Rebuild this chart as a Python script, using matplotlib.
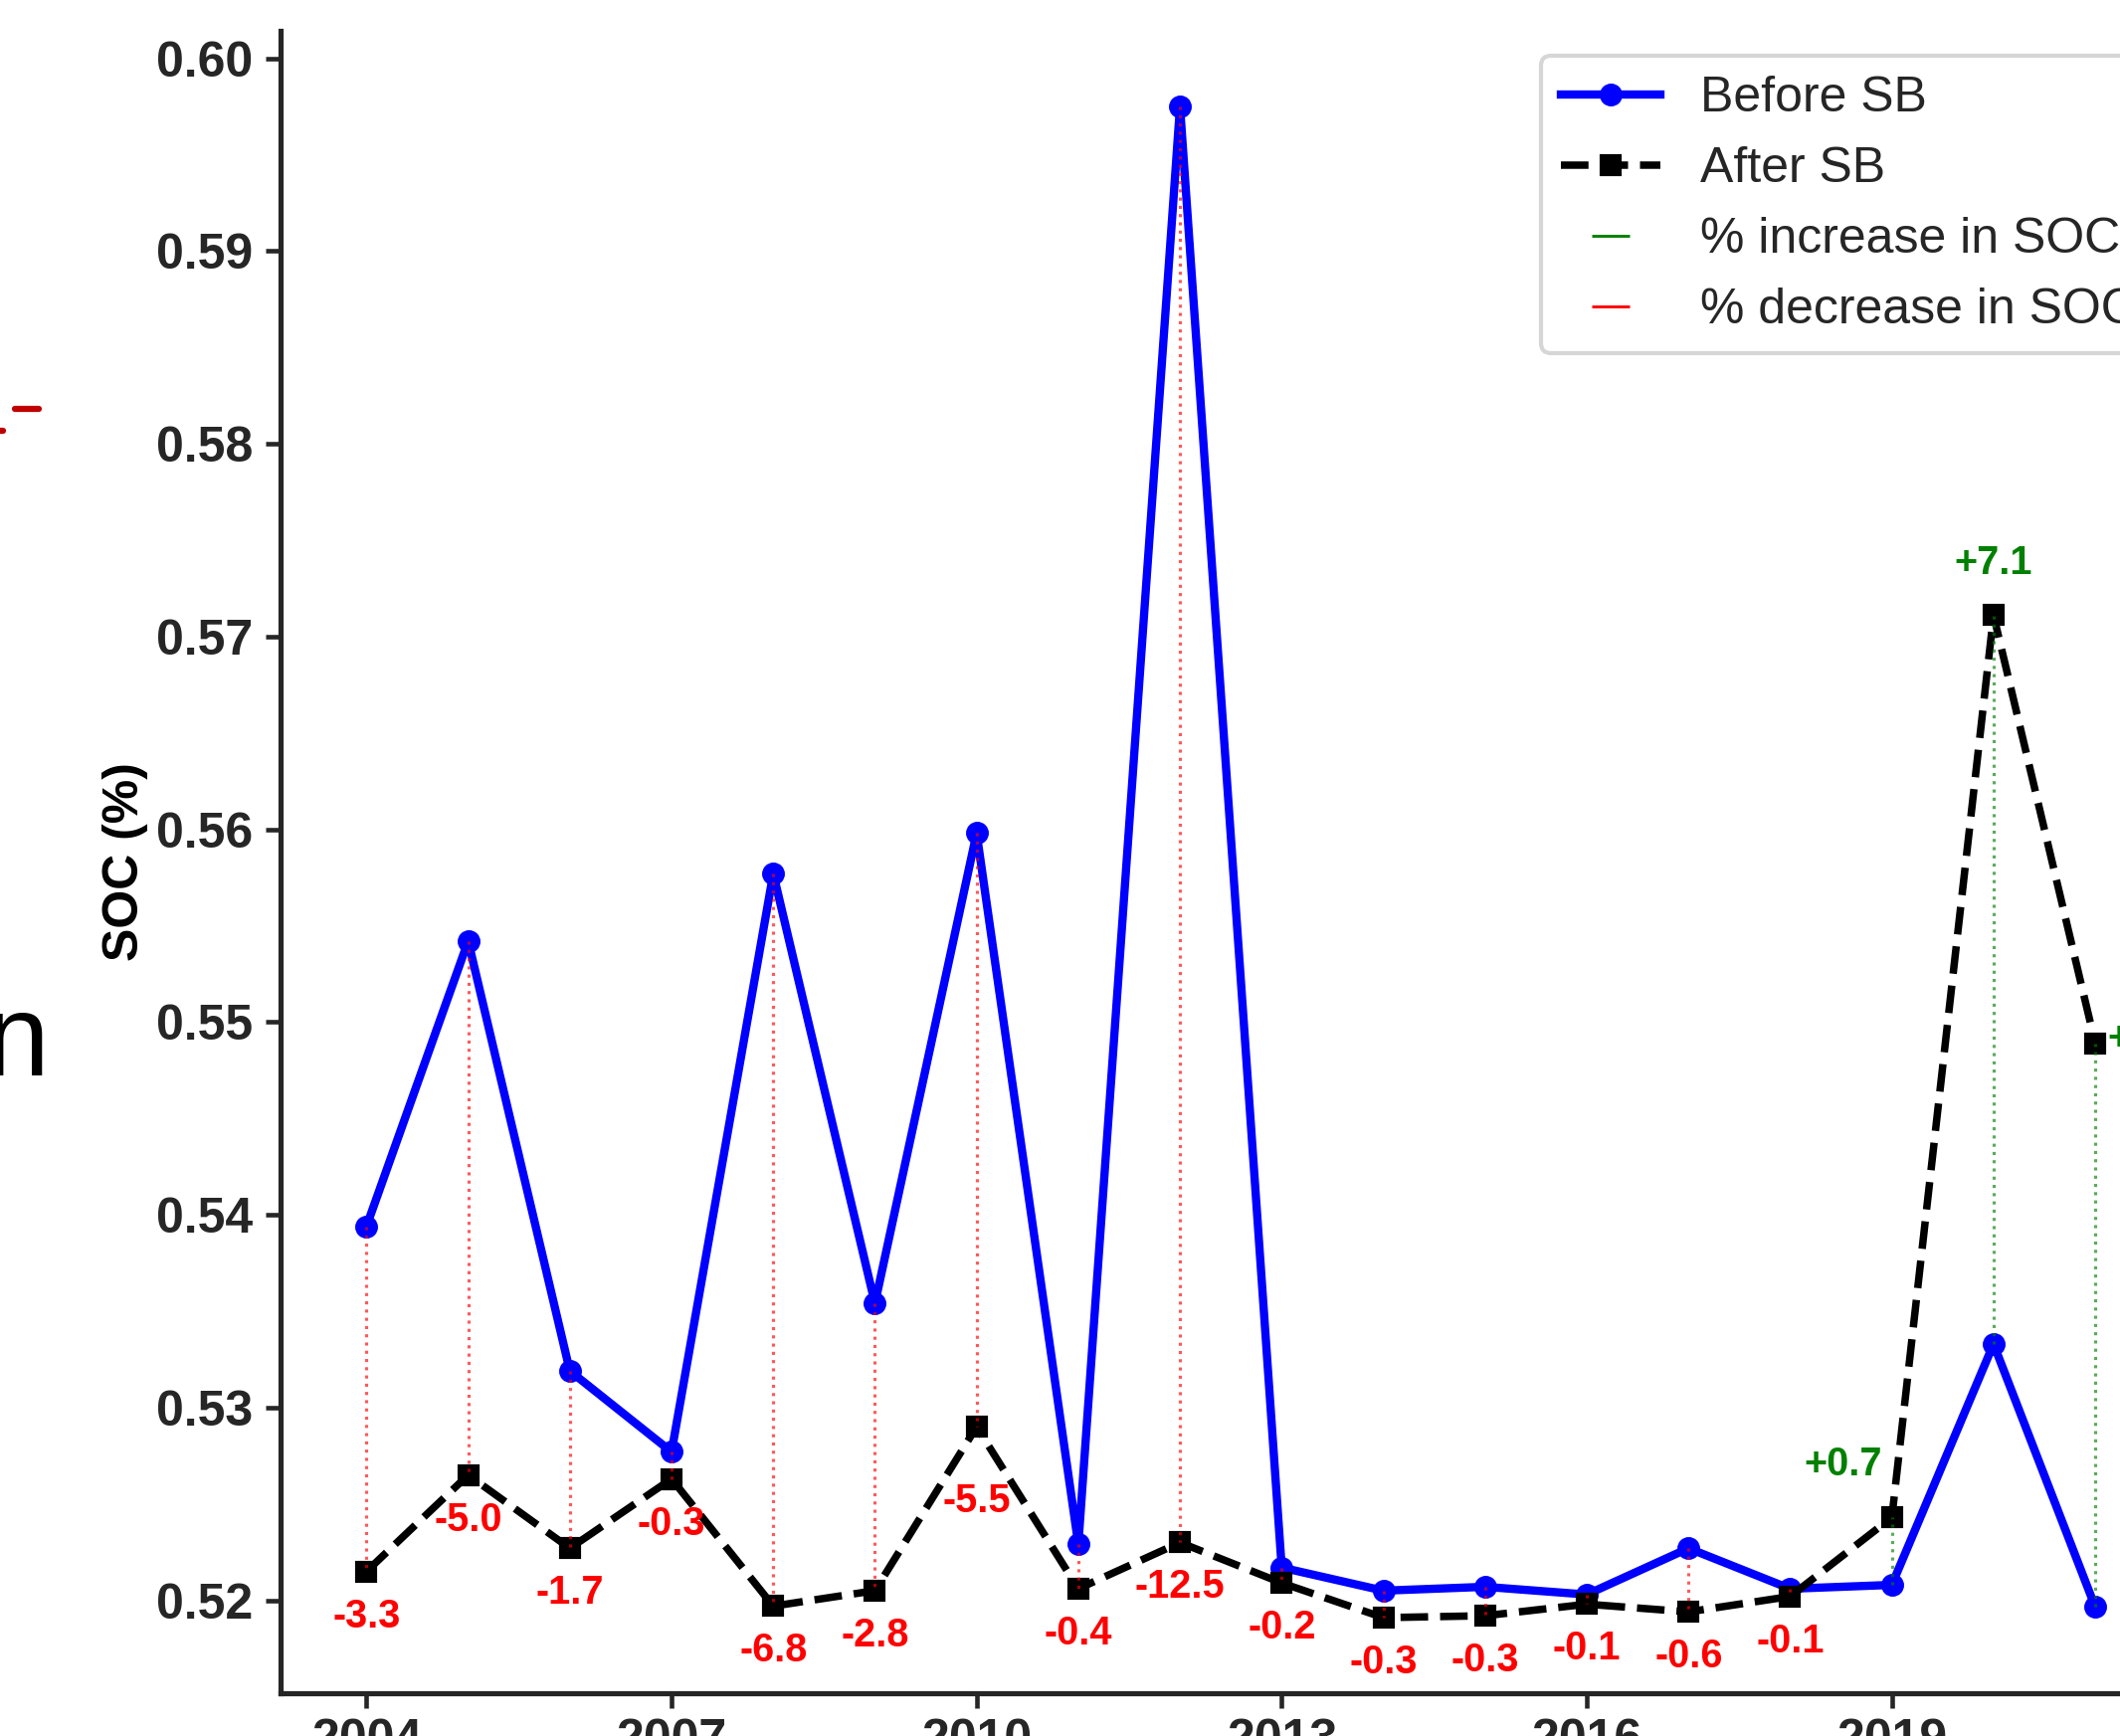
import numpy as np
import matplotlib
matplotlib.use("Agg")
import matplotlib.pyplot as plt
from matplotlib.lines import Line2D

# ── data ──────────────────────────────────────────────────────────────────
years = list(range(2004, 2022))
soc_before = [0.5394, 0.5542, 0.5319, 0.5277, 0.5577, 0.5354, 0.5598, 0.5229, 0.5975,
              0.5217, 0.5205, 0.5207, 0.5203, 0.5227, 0.5206, 0.5208, 0.5333, 0.51965]
soc_after = [0.5215, 0.5265, 0.5227, 0.5263, 0.5197, 0.5205, 0.5290, 0.5206, 0.5230,
             0.5209, 0.5191, 0.5192, 0.5198, 0.5194, 0.5202, 0.5243, 0.5711, 0.5489]
year_ticks = [2004, 2007, 2010, 2013, 2016, 2019]

# label nudges (points), default red below / green above
nudge = {2010: (0, -18, "center"), 2019: (-11.8, 12.7, "center"), 2021: (3, 1, "left")}

INK = "#262626"
plt.rcParams.update({
    "font.family": "Liberation Sans",
    "axes.edgecolor": INK,
    "axes.linewidth": 1.25,
    "xtick.color": INK,
    "ytick.color": INK,
    "xtick.major.width": 1.1,
    "ytick.major.width": 1.1,
    "xtick.major.size": 3.5,
    "ytick.major.size": 3.5,
    "xtick.major.pad": 2.5,
    "ytick.major.pad": 3,
    "text.color": INK,
})

W, H = 2131, 1745
fig = plt.figure(figsize=(W / 300, H / 300), dpi=300)
ax = fig.add_axes([281.5 / W, 43 / H, (2193 - 281.5) / W, (1702 - 31) / H])

ax.plot(years, soc_before, color="blue", lw=2.0, marker="o", ms=4.5, label="Before SB", zorder=2)
ax.plot(years, soc_after, color="black", lw=1.8, ls="--", marker="s", ms=4.5, label="After SB", zorder=2.5)

for yr, b, a in zip(years, soc_before, soc_after):
    pct = (a - b) / b * 100
    up = pct > 0
    col = "green" if up else "red"
    ax.plot([yr, yr], [b, a], color=col, ls=":", lw=0.75, alpha=0.65, zorder=3)
    dx, dy, ha = nudge.get(yr, (0, 12.7 if up else -10.8, "center"))
    ax.annotate(f"{pct:+.1f}", xy=(yr, a), xytext=(dx, dy), textcoords="offset points",
                ha=ha, va="center", fontsize=9.5, fontweight="bold", color=col,
                annotation_clip=False)

ax.set_xticks(year_ticks)
ax.set_xticklabels([str(y) for y in year_ticks], fontsize=12, fontweight="bold")
ax.set_yticks([0.52, 0.53, 0.54, 0.55, 0.56, 0.57, 0.58, 0.59, 0.60])
ax.set_yticklabels([f"{v:.2f}" for v in ax.get_yticks()], fontsize=12, fontweight="bold")
ax.set_ylabel("SOC (%)", fontsize=12, fontweight="bold", labelpad=2)
ax.spines["top"].set_visible(False)
ax.spines["right"].set_visible(False)

handles = [
    Line2D([0], [0], color="blue", lw=2.0, marker="o", ms=4.5),
    Line2D([0], [0], color="black", lw=1.8, ls="--", marker="s", ms=4.5),
    Line2D([0], [0], color="green", marker="_", ls="None", ms=9, mew=0.7),
    Line2D([0], [0], color="red", marker="_", ls="None", ms=9, mew=0.7),
]
ax.legend(handles, ["Before SB", "After SB", "% increase in SOC", "% decrease in SOC"],
          loc="upper right", fontsize=12, labelspacing=0.5, framealpha=0.8)

# fragments of the neighbouring panel visible at the left edge
fig.text(49 / W, 1 - 1081 / H, "n", ha="right", va="baseline", fontsize=28, color="black")
fig.add_artist(Line2D([15 / W, 39 / W], [1 - 411 / H, 1 - 411 / H], color="#c00000",
                      lw=1.5, solid_capstyle="round", transform=fig.transFigure))
fig.add_artist(Line2D([-4 / W, 3 / W], [1 - 433 / H, 1 - 433 / H], color="#c00000",
                      lw=1.5, solid_capstyle="round", transform=fig.transFigure))

fig.savefig("out.png", dpi=300)
